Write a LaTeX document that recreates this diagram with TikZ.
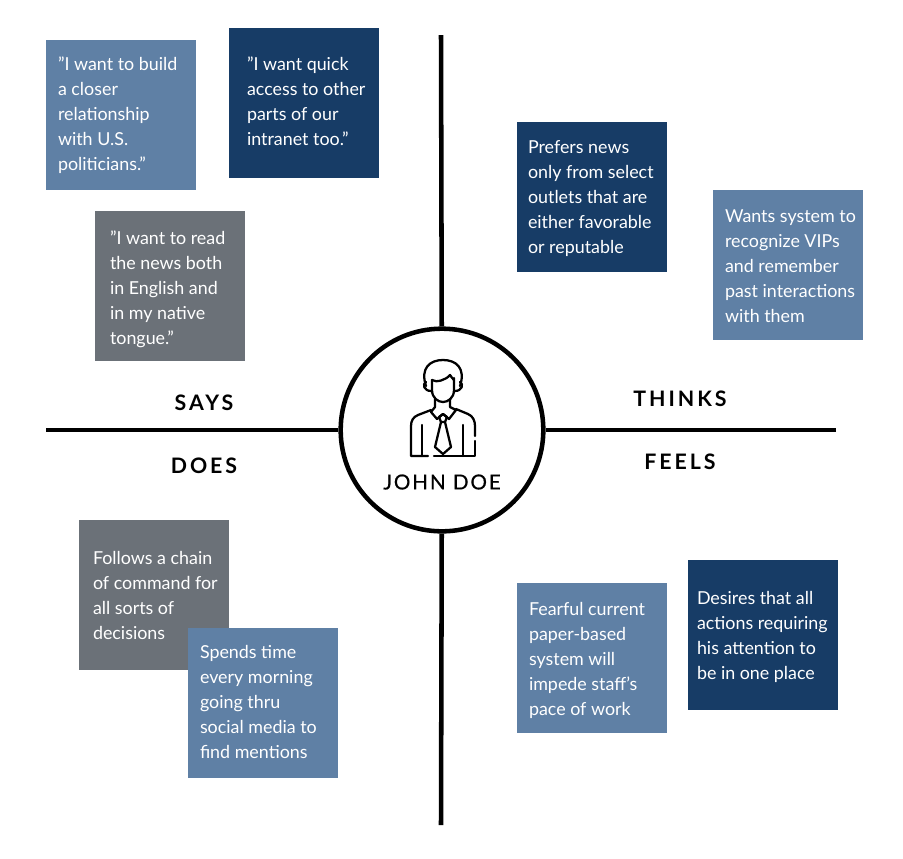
\documentclass[tikz,border=0pt]{standalone}
\usepackage{fontspec}
\setmainfont{Lato}
\newfontfamily\headfont[LetterSpace=14,BoldFont={Lato Bold}]{Lato}
\newfontfamily\namefont[LetterSpace=9,FakeBold=0.5]{Lato}
\usetikzlibrary{arrows.meta,positioning,calc}
\definecolor{noteblue}{RGB}{95,128,165}
\definecolor{notenavy}{RGB}{23,60,102}
\definecolor{notegrey}{RGB}{107,113,120}
\tikzset{
  notebox/.style={fill=#1,minimum size=112.5pt,inner sep=0pt},
  notetext/.style={text=white,inner sep=0pt,align=left,anchor=north west,
    font=\fontsize{13.4}{18.75}\selectfont},
  quadlabel/.style={font=\headfont\bfseries\fontsize{16}{18}\selectfont},
  axisline/.style={line width=3.4pt},
  iconline/.style={line width=1.7pt,line cap=round,line join=round}
}
\newcommand{\notecard}[5]{\node[notebox=#1] (#2) at #3 {};
  \node[notetext] (#2text) at ($(#2.north west)+#4$) {#5};}
\newcommand{\iconpath}[1]{\draw[iconline] #1;}
\begin{document}
\begin{tikzpicture}[x=0.75pt,y=-0.75pt]
\useasboundingbox (0,0) rectangle (903,858);
\coordinate (axistop) at (441,35);
\coordinate (axisbottom) at (441,825);
\coordinate (axisleft) at (46,430);
\coordinate (axisright) at (836,430);
\node[circle,draw,line width=3.4pt,minimum size=152pt,inner sep=0pt] (persona) at (442,430) {};
\draw[axisline] (axistop) -- (persona);
\draw[axisline] (axisbottom) -- (persona);
\draw[axisline] (axisleft) -- (persona);
\draw[axisline] (axisright) -- (persona);
% says
\notecard{noteblue}{sayone}{(121,115)}{(12,17)}{”I want to build\\a closer\\relationship\\with U.S.\\politicians.”}
\notecard{notenavy}{saytwo}{(304,103)}{(18,29)}{”I want quick\\access to other\\parts of our\\intranet too.”}
\notecard{notegrey}{saythree}{(170,286)}{(15,20)}{”I want to read\\the news both\\in English and\\in my native\\tongue.”}
% thinks
\notecard{notenavy}{thinkone}{(592,197)}{(11,19)}{Prefers news\\only from select\\outlets that are\\either favorable\\or reputable}
\notecard{noteblue}{thinktwo}{(788,265)}{(12,20)}{Wants system to\\recognize VIPs\\and remember\\past interactions\\with them}
% does
\notecard{notegrey}{doesone}{(154,595)}{(14,31)}{Follows a chain\\of command for\\all sorts of\\decisions}
\notecard{noteblue}{doestwo}{(263,703)}{(12,17)}{Spends time\\every morning\\going thru\\social media to\\find mentions}
% feels
\notecard{noteblue}{feelone}{(592,658)}{(12,19)}{Fearful current\\paper-based\\system will\\impede staff’s\\pace of work}
\notecard{notenavy}{feeltwo}{(763,635)}{(9,31)}{Desires that all\\actions requiring\\his attention to\\be in one place}
\node[quadlabel] (says) at (204,403) {SAYS};
\node[quadlabel] (does) at (204,466) {DOES};
\node[quadlabel] (thinks) at (680,399) {THINKS};
\node[quadlabel] (feels) at (680,462) {FEELS};
\node[font=\namefont\fontsize{15.5}{18}\selectfont] (personaname) at (442,482) {JOHN DOE};
% person icon
\iconpath{(426,386) .. controls (420,368) and (430,360) .. (443,360) .. controls (456,360) and (466,368) .. (460,386)}
\iconpath{(432,380) .. controls (436,383) and (446,380) .. (450,375) .. controls (452,378) and (454,380) .. (454,380)}
\iconpath{(432,380) -- (432,390) .. controls (432,398) and (438,402) .. (443,402) .. controls (448,402) and (454,398) .. (454,390) -- (454,378)}
\iconpath{(426,382) .. controls (422,384) and (424,391) .. (431,391)}
\iconpath{(460,382) .. controls (464,384) and (462,391) .. (455,391)}
\iconpath{(435,399) -- (435,407) -- (431,412) -- (437,419) -- (443,414) -- (449,419) -- (456,410) -- (450,407) -- (450,399)}
\iconpath{(439,417) -- (443,414) -- (447,417) -- (445,422) -- (441,422) -- cycle}
\iconpath{(441,422) -- (435,447) -- (443,454) -- (451,447) -- (445,422)}
\iconpath{(431,410) -- (418,415) .. controls (413,417) and (411,421) .. (411,426) -- (411,456) -- (428,456)}
\iconpath{(456,409) -- (468,414) .. controls (473,416) and (475,421) .. (475,426) -- (475,436)}
\iconpath{(475,441) -- (475,456) -- (434,456)}
\iconpath{(422,425) -- (422,456)}
\iconpath{(463,425) -- (463,456)}
\end{tikzpicture}
\end{document}
